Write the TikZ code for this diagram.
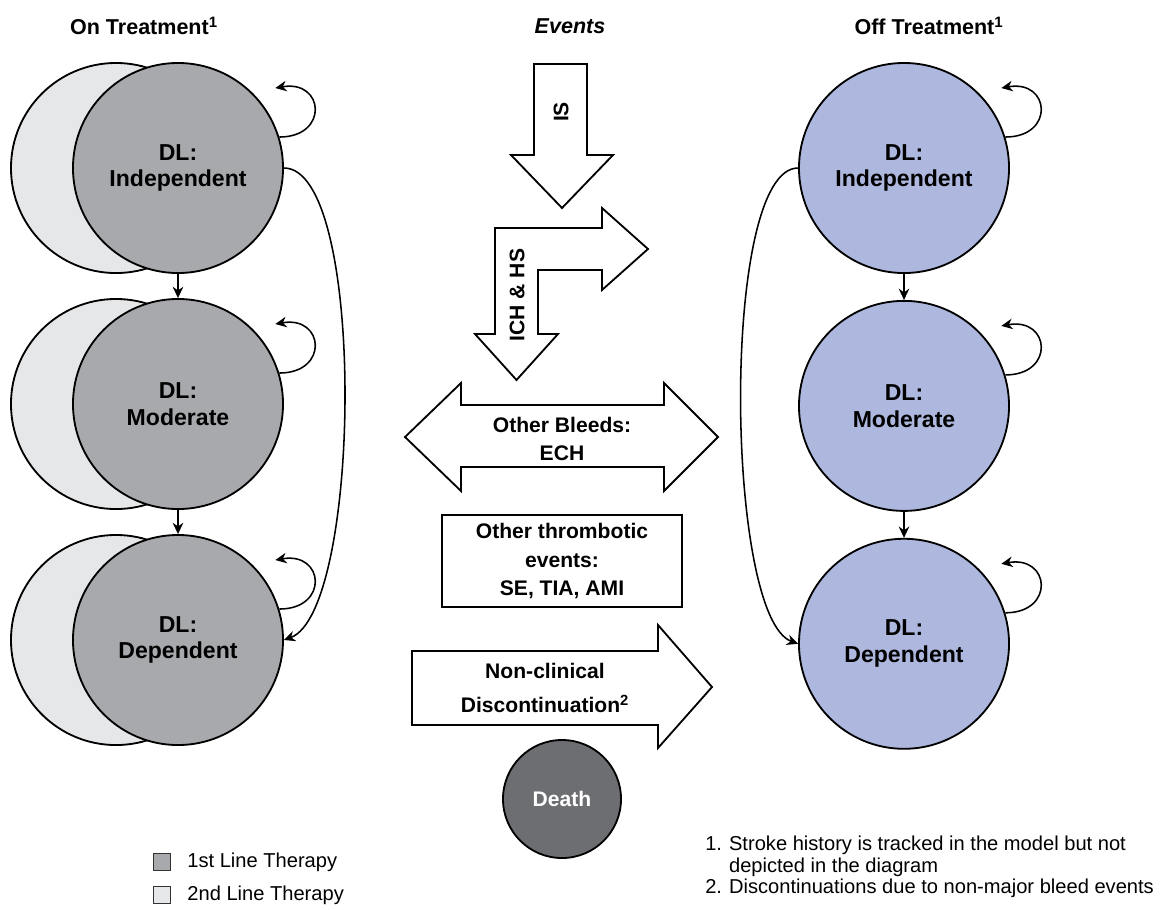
\documentclass[tikz,border=0pt]{standalone}
\usepackage{xcolor}
\usepackage{fontspec}
\setmainfont{Liberation Sans}
\usepackage{tikz}
\usetikzlibrary{shapes.geometric, arrows.meta, positioning}
\definecolor{firstGrey}{HTML}{A7A9AC}
\definecolor{secondGrey}{HTML}{E6E7E8}
\definecolor{offBlue}{HTML}{AEB8DE}
\definecolor{deathGrey}{HTML}{6D6E71}

\begin{document}
\begin{tikzpicture}[
    x=0.025cm, y=-0.025cm,
    state/.style={circle, draw, line width=1.3pt, minimum size=5.25cm, inner sep=0pt, align=center, font=\fontsize{16.4}{19}\selectfont\bfseries},
    title/.style={font=\fontsize{15.3}{18}\selectfont\bfseries},
    eventtext/.style={align=center, font=\fontsize{15}{20}\selectfont\bfseries},
    blockarrow/.style={draw, line width=1.3pt, fill=white, line join=miter},
    legendbox/.style={rectangle, draw=black!80, line width=1pt, minimum size=0.42cm, inner sep=0pt},
    smalltext/.style={inner sep=0pt, font=\fontsize{14.3}{15.2}\selectfont},
    arrow/.style={-{Stealth[length=8pt, width=7.5pt]}, line width=1.1pt},
]
    \useasboundingbox (0,0) rectangle (1162,909);

    % column headings
    \node[title] (onhead) at (144,26) {On Treatment\textsuperscript{1}};
    \node[title] (evhead) at (570,26) {\textit{Events}};
    \node[title] (offhead) at (929,26) {Off Treatment\textsuperscript{1}};

    % on treatment: 2nd line behind, 1st line in front
    \node[state, fill=secondGrey] (on1b) at (116,168) {};
    \node[state, fill=secondGrey] (on2b) at (116,404) {};
    \node[state, fill=secondGrey] (on3b) at (116,640) {};
    \node[state, fill=firstGrey] (on1) at (178,168) {DL:\\Independent};
    \node[state, fill=firstGrey] (on2) at (178,404) {DL:\\Moderate};
    \node[state, fill=firstGrey] (on3) at (178,640) {DL:\\Dependent};

    % off treatment
    \node[state, fill=offBlue] (off1) at (904,168) {DL:\\Independent};
    \node[state, fill=offBlue, below=0.65cm of off1] (off2) {DL:\\Moderate};
    \node[state, fill=offBlue, below=0.65cm of off2] (off3) {DL:\\Dependent};

    \draw[arrow] (on1) -- (on2);
    \draw[arrow] (on2) -- (on3);
    \draw[arrow] (off1) -- (off2);
    \draw[arrow] (off2) -- (off3);
    \foreach \s in {on1,on2,on3,off1,off2,off3}
        \draw[arrow] (\s.17) to[out=0, in=10, looseness=2.6] ++(-4,-49);
    \draw[arrow] (on1.east) to[out=0, in=20, looseness=0.45] (on3.east);
    \draw[arrow] (off1.west) to[out=180, in=160, looseness=0.42] (off3.west);

    % events
    \draw[blockarrow] (534,64) -- (587,64) -- (587,155) -- (613,155) -- (562,208) -- (511,155) -- (534,155) -- cycle;
    \node[eventtext, rotate=90] (is) at (561,112) {IS};

    \draw[blockarrow] (495,228) -- (602,228) -- (602,208) -- (648,249) -- (602,290) -- (602,270) -- (538,270)
        -- (538,334) -- (558,334) -- (516.5,380) -- (475,334) -- (495,334) -- cycle;
    \node[eventtext, rotate=90] (ich) at (517,295) {ICH \& HS};

    \draw[blockarrow] (405,437) -- (461,383) -- (461,405) -- (664,405) -- (664,383) -- (718,437)
        -- (664,491) -- (664,467) -- (461,467) -- (461,491) -- cycle;
    \node[eventtext] (bleeds) at (562,439) {Other Bleeds:\\ECH};

    \node[eventtext, draw, line width=1.3pt, minimum width=6cm, minimum height=2.3cm, inner sep=0pt,
        font=\fontsize{15}{20.6}\selectfont\bfseries] (thromb) at (562,561) {Other thrombotic\\events:\\SE, TIA, AMI};

    \draw[blockarrow] (412,651) -- (658,651) -- (658,625) -- (712,687) -- (658,748) -- (658,725) -- (412,725) -- cycle;
    \node[eventtext, font=\fontsize{15}{24}\selectfont\bfseries] (noncl) at (545,688) {Non-clinical\\Discontinuation\textsuperscript{2}};

    \node[circle, draw, line width=1.3pt, fill=deathGrey, minimum size=2.95cm, inner sep=0pt,
        text=white, font=\fontsize{15}{18}\selectfont\bfseries] (death) at (562,799) {Death};

    % legend and notes
    \node[legendbox, fill=firstGrey] (leg1) at (162,862) {};
    \node[legendbox, fill=secondGrey] (leg2) at (162,895) {};
    \node[smalltext, right=0.4cm of leg1] (leg1txt) {1st Line Therapy};
    \node[smalltext, right=0.4cm of leg2] (leg2txt) {2nd Line Therapy};

    \node[smalltext, anchor=west] (notes) at (705,868) {%
        \begin{tabular}{@{}l@{\hspace{5pt}}l@{}}
        1. & Stroke history is tracked in the model but not\\
           & depicted in the diagram\\
        2. & Discontinuations due to non-major bleed events
        \end{tabular}};
\end{tikzpicture}
\end{document}
